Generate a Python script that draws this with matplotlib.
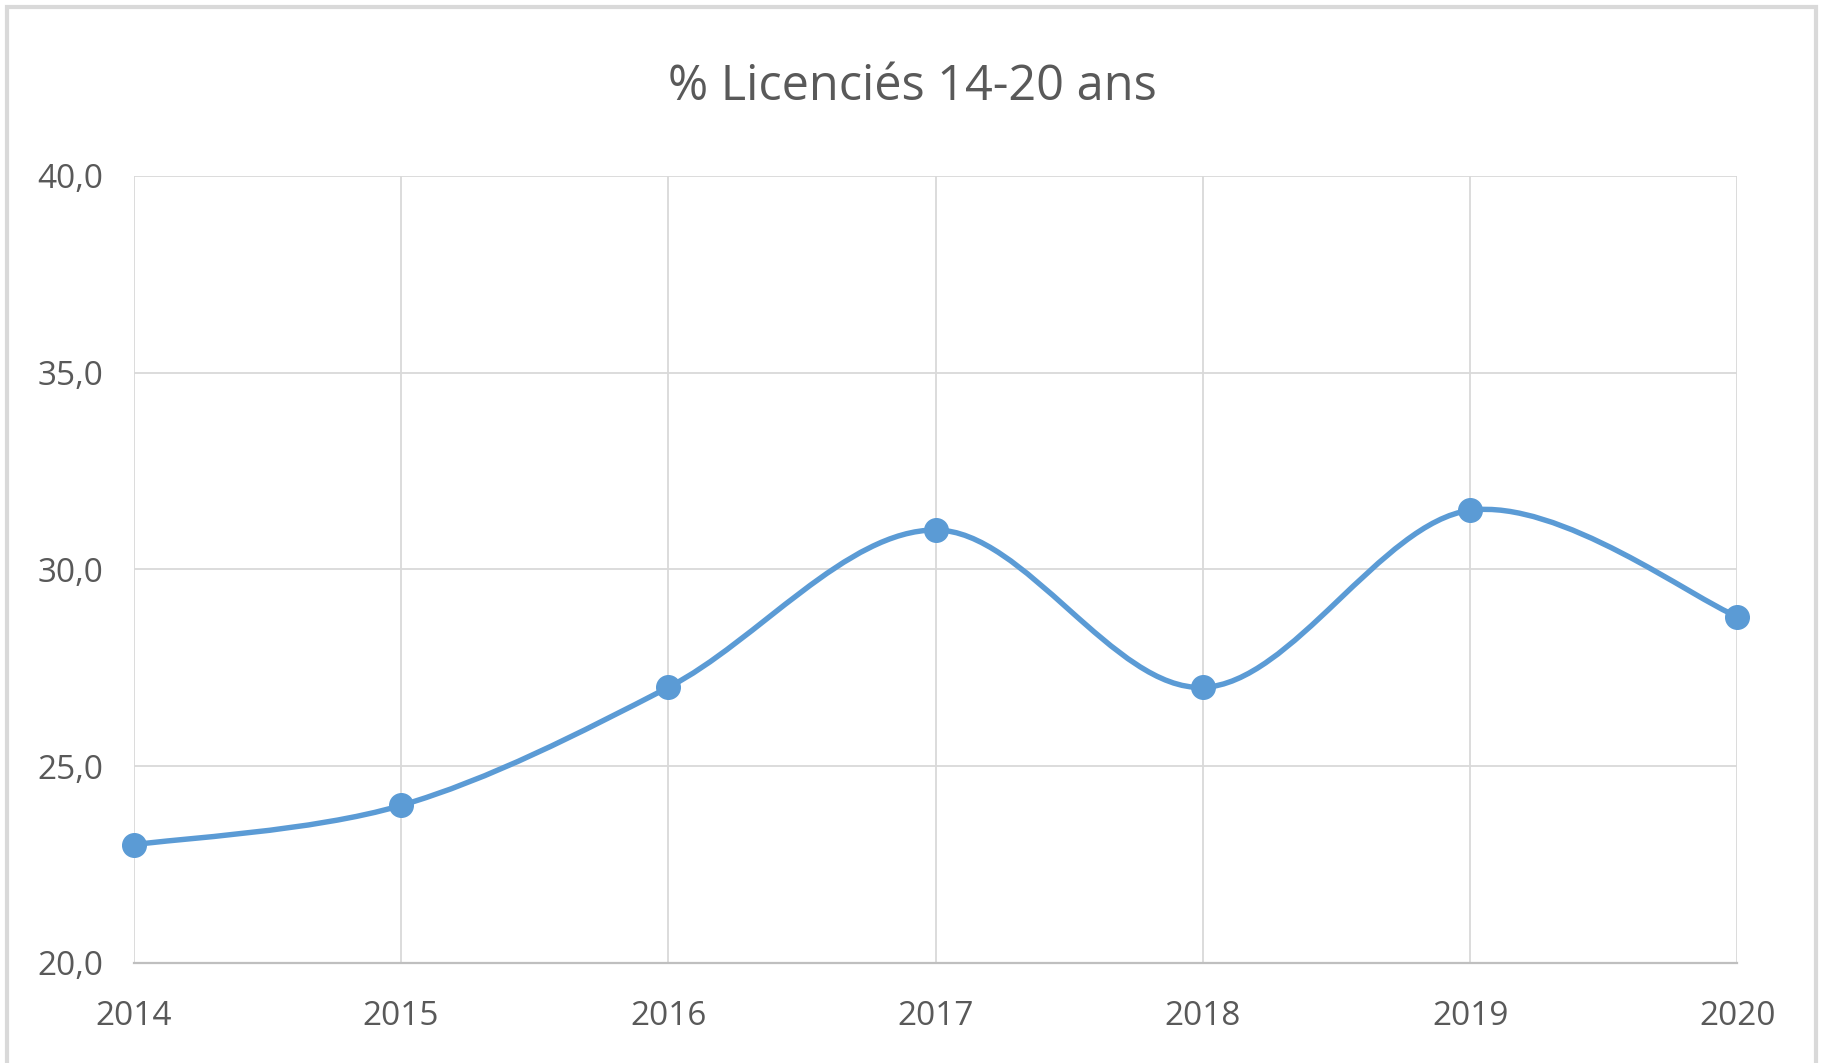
import numpy as np
import matplotlib.pyplot as plt
from matplotlib.path import Path
from matplotlib.patches import PathPatch, Rectangle

# Data
years = [2014, 2015, 2016, 2017, 2018, 2019, 2020]
values = [23.0, 24.0, 27.0, 31.0, 27.0, 31.5, 28.8]
y_ticks = [20, 25, 30, 35, 40]
title = "% Licenciés 14-20 ans"

blue = "#5B9BD5"
grid_col = "#D9D9D9"
text_col = "#595959"

plt.rcParams['font.family'] = ['Open Sans', 'DejaVu Sans']

fig = plt.figure(figsize=(18.25, 10.63), dpi=100)
ax = fig.add_axes([0.0733, 0.0942, 0.8787, 0.7404])

# smoothed line (Excel style, Catmull-Rom -> cubic bezier)
x = np.array(years, dtype=float)
y = np.array(values, dtype=float)
verts = [(x[0], y[0])]
codes = [Path.MOVETO]
for i in range(len(x) - 1):
    x0, y0 = (x[i - 1], y[i - 1]) if i > 0 else (x[i], y[i])
    x3, y3 = (x[i + 2], y[i + 2]) if i + 2 < len(x) else (x[i + 1], y[i + 1])
    c1 = (x[i] + (x[i + 1] - x0) / 6, y[i] + (y[i + 1] - y0) / 6)
    c2 = (x[i + 1] - (x3 - x[i]) / 6, y[i + 1] - (y3 - y[i]) / 6)
    verts += [c1, c2, (x[i + 1], y[i + 1])]
    codes += [Path.CURVE4] * 3
ax.add_patch(PathPatch(Path(verts, codes), facecolor="none", edgecolor=blue,
                       lw=3.9, capstyle="round", joinstyle="round", zorder=3))
ax.plot(years, values, "o", color=blue, markersize=17, zorder=4, clip_on=False)

ax.set_xlim(2014, 2020)
ax.set_ylim(20, 40)
ax.set_xticks(years)
ax.set_xticklabels([str(v) for v in years])
ax.set_yticks(y_ticks)
ax.set_yticklabels([f"{v:.1f}".replace(".", ",") for v in y_ticks])
ax.grid(True, color=grid_col, lw=1.3)
ax.set_axisbelow(True)
for s in ["top", "right", "left"]:
    ax.spines[s].set_visible(False)
ax.spines["bottom"].set_color("#BFBFBF")
ax.spines["bottom"].set_linewidth(1.6)
ax.tick_params(axis="both", length=0, labelsize=24, colors=text_col)
ax.tick_params(axis="x", pad=27)
ax.tick_params(axis="y", pad=22)

fig.text(0.5, 0.918, title, ha="center", va="center", fontsize=35, color=text_col)

# chart border
fig.patches.append(Rectangle((0.004, -0.05), 0.991, 1.043, transform=fig.transFigure,
                             fill=False, edgecolor=grid_col, lw=3))

fig.savefig("out.png", dpi=100)
